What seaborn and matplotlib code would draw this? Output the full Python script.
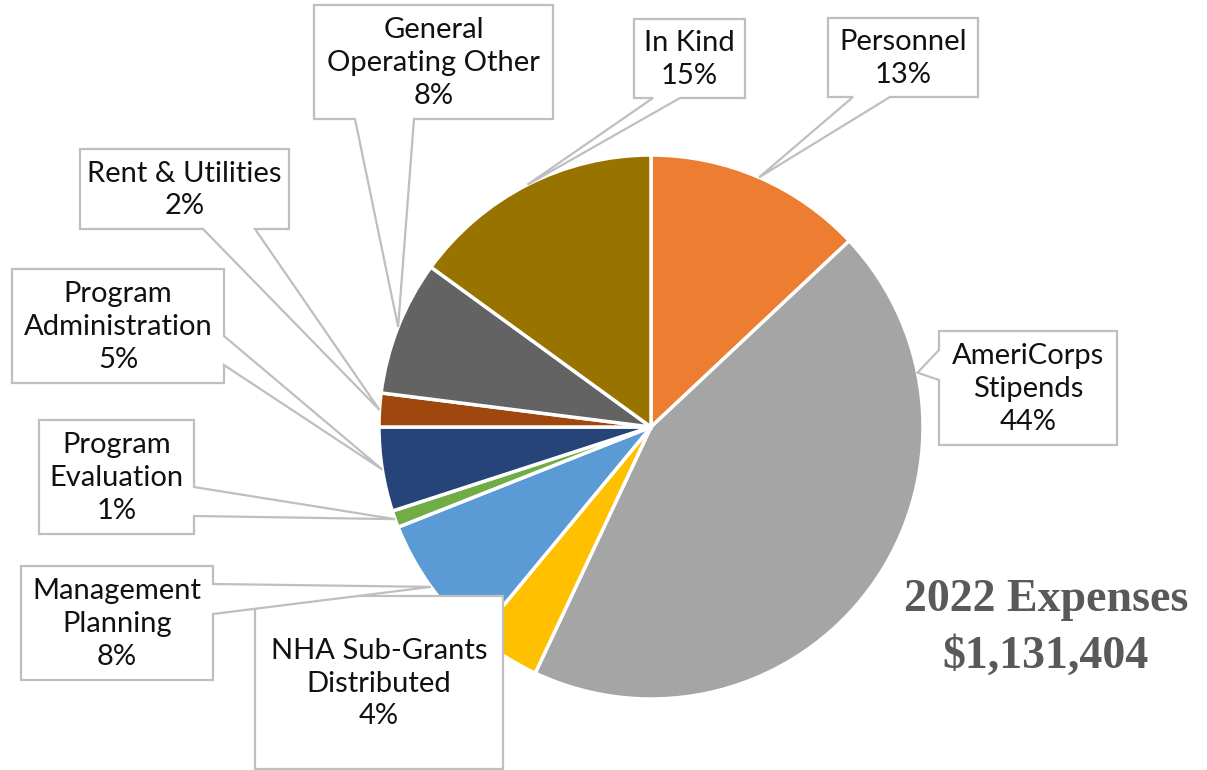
import numpy as np
import matplotlib
matplotlib.use("Agg")
import matplotlib.pyplot as plt
from matplotlib.patches import Polygon
import seaborn as sns

# ---- data ----
categories = ["Personnel", "AmeriCorps\nStipends", "NHA Sub-Grants\nDistributed",
              "Management\nPlanning", "Program\nEvaluation", "Program\nAdministration",
              "Rent & Utilities", "General\nOperating Other", "In Kind"]
percents = [13, 44, 4, 8, 1, 5, 2, 8, 15]
colors = ["#ED7D31", "#A5A5A5", "#FFC000", "#5B9BD5", "#70AD47",
          "#264478", "#9E480E", "#636363", "#997300"]
title_lines = ["2022 Expenses", "$1,131,404"]

# ---- layout (pixel coordinates, y measured downward) ----
W, H = 1207, 770
CX, CY, R = 651, 427, 272
# box: (x0, y0, x1, y1), pointer side, pointer base positions, anchor fraction along wedge
boxes = {
    "Personnel":   ((828, 18, 978, 97), "bottom", (853, 890), 0.5),
    "AmeriCorps\nStipends": ((939, 331, 1117, 445), "left", (350, 380), 0.2),
    "NHA Sub-Grants\nDistributed": ((255, 596, 503, 769), None, None, 0.5),
    "Management\nPlanning": ((21, 566, 213, 680), "right", (584, 614), 0.5),
    "Program\nEvaluation": ((39, 420, 194, 534), "right", (487, 516), 0.5),
    "Program\nAdministration": ((12, 269, 224, 383), "right", (336, 365), 0.5),
    "Rent & Utilities": ((80, 149, 289, 229), "bottom", (203, 255), 0.5),
    "General\nOperating Other": ((314, 5, 553, 119), "bottom", (355, 414), 0.5),
    "In Kind":     ((634, 19, 745, 98), "bottom", (653, 680), 0.5),
}
draw_order = ["Personnel", "AmeriCorps\nStipends", "General\nOperating Other", "In Kind",
              "Rent & Utilities", "Program\nAdministration", "Program\nEvaluation",
              "NHA Sub-Grants\nDistributed", "Management\nPlanning"]

sns.set_theme(style="white")
plt.rcParams["font.family"] = ["Lato", "DejaVu Sans"]

fig = plt.figure(figsize=(W / 100, H / 100), dpi=100)
ax = fig.add_axes([0, 0, 1, 1])

def fy(y):
    return H - y

wedges, _ = ax.pie(percents, colors=colors, startangle=90, counterclock=False,
                   center=(CX, fy(CY)), radius=R,
                   wedgeprops=dict(edgecolor="white", linewidth=2.5))
ax.set_xlim(0, W)
ax.set_ylim(0, H)
ax.set_aspect("equal")
ax.axis("off")

wedge_of = dict(zip(categories, wedges))
pct_of = dict(zip(categories, percents))

for z, name in enumerate(draw_order):
    (x0, y0, x1, y1), side, base, frac = boxes[name]
    w = wedge_of[name]
    # wedge runs clockwise from theta2 down to theta1
    t = w.theta2 - frac * (w.theta2 - w.theta1)
    cx, cy = w.center
    ax_pt = (cx + w.r * np.cos(np.deg2rad(t)), cy + w.r * np.sin(np.deg2rad(t)))
    Y0, Y1 = fy(y0), fy(y1)
    verts = [(x0, Y0), (x1, Y0)]
    if side == "right":
        verts += [(x1, fy(base[0])), ax_pt, (x1, fy(base[1]))]
    verts += [(x1, Y1)]
    if side == "bottom":
        verts += [(base[1], Y1), ax_pt, (base[0], Y1)]
    verts += [(x0, Y1)]
    if side == "left":
        verts += [(x0, fy(base[1])), ax_pt, (x0, fy(base[0]))]
    poly = Polygon(verts, closed=True, facecolor="white", edgecolor="#BFBFBF",
                   linewidth=1.6, zorder=5 + z, joinstyle="miter")
    ax.add_patch(poly)
    ax.text((x0 + x1) / 2, fy((y0 + y1) / 2) - 1, f"{name}\n{pct_of[name]}%",
            ha="center", va="center", fontsize=21, color="#111111",
            linespacing=1.33, zorder=5 + z + 0.5)

for txt, yy in zip(title_lines, (600, 657)):
    ax.text(1046, fy(yy), txt, ha="center", va="center",
            fontsize=33, fontweight="bold", color="#595959",
            family=["Liberation Serif", "DejaVu Serif"], zorder=30)

fig.savefig("out.png", dpi=100, facecolor="white")
